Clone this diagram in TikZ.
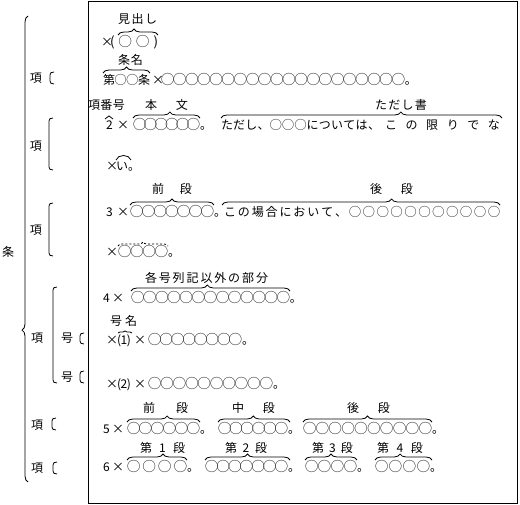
\documentclass[tikz,border=0pt]{standalone}
\usepackage{fontspec}
\setmainfont{Noto Sans CJK JP}
\usetikzlibrary{decorations.pathreplacing}
\makeatletter
\let\spr@end\relax
\def\spr@loop#1{\ifx#1\spr@end\else\hskip 0pt plus 1fill minus 3pt\relax#1\expandafter\spr@loop\fi}
\def\spr@first#1{#1\spr@loop}
\newcommand\spr[2]{\makebox[#1pt][s]{\spr@first#2\spr@end}}
\makeatother
\newcommand\C{\fontsize{13.2}{14}\selectfont}
\newcommand\lbrk[3]{\draw[ln] ({#1+4},#2) .. controls ({#1+1},#2) and (#1,{#2+1}) .. (#1,{#2+3}) -- (#1,{#3-3}) .. controls (#1,{#3-1}) and ({#1+1},#3) .. ({#1+4},#3);}
\begin{document}
\begin{tikzpicture}[x=1pt,y=-1pt,
  t/.style={inner sep=0pt, outer sep=0pt, anchor=base west, font=\fontsize{12}{14}\selectfont},
  lab/.style={inner sep=0pt, outer sep=0pt, anchor=base, font=\fontsize{12}{14}\selectfont},
  ln/.style={line width=0.8pt},
  br/.style={ln, decorate, decoration={brace, amplitude=6pt, aspect=#1}},
  br/.default=0.5]
\useasboundingbox (0,0) rectangle (520,505);
\fill[white] (0,0) rectangle (520,505);
% frame
\draw[line width=1pt] (88,2) rectangle (517,503);
% left structure
\node[lab] (jo) at (8,256.5) {条};
\draw[ln, decorate, decoration={brace, amplitude=6pt, aspect=0.326}] (28,482) -- (28,16);
\node[lab] (k1) at (36,82.5) {項};
\lbrk{50}{72}{84}
\node[lab] (k2) at (36,150.5) {項};
\lbrk{49}{118}{170}
\node[lab] (k3) at (36,234.5) {項};
\lbrk{49}{203}{256}
\node[lab] (k4) at (37,342.5) {項};
\lbrk{53}{287}{383}
\node[lab] (g1) at (67,342.5) {号};
\lbrk{80}{333}{344}
\node[lab] (g2) at (67,381.5) {号};
\lbrk{80}{371}{383}
\node[lab] (k5) at (37,429.5) {項};
\lbrk{52}{418}{430}
\node[lab] (k6) at (37,472.5) {項};
\lbrk{53}{462}{474}
% row 1-2
\node[t] (midashi) at (118,23.5) {\spr{39}{見出し}};
\node[t] (x2) at (101,46.5) {×};
\node[t] (r2) at (110,46.5) {{\C\spr{48}{(◯◯)}}};
\draw[br=0.4] (118,35) -- (158,35);
% row 3-4
\node[t] (jomei) at (118,64.5) {\spr{25}{条名}};
\node[t] (dai) at (103,84.5) {\spr{47}{第◯◯条}};
\node[t] (x4) at (152,84.5) {×};
\node[t] (r4) at (161,84.5) {{\C\spr{244}{◯◯◯◯◯◯◯◯◯◯◯◯◯◯◯◯◯◯◯◯}}。};
\draw[br=0.5] (103,73) -- (150,73);
% row 5-7
\node[t] (kobango) at (88,109.5) {\spr{37}{項番号}};
\node[t] (honbun) at (145,109.5) {\spr{43}{本文}};
\node[t] (tadashigaki) at (375,109.5) {\spr{52}{ただし書}};
\node[t] (n2) at (106,129.5) {2};
\node[t] (x6) at (117,129.5) {×};
\node[t] (r6a) at (133,129.5) {{\C\spr{67}{◯◯◯◯◯◯}}。};
\node[t] (r6b) at (221,129.5) {\spr{159}{ただし、◯◯◯については、}};
\node[t] (r6c) at (385,129.5) {\spr{115}{この限りでな}};
\draw[ln, decorate, decoration={brace, amplitude=3pt}] (105,119) -- (113,119);
\draw[br=0.55] (133,118) -- (200,118);
\draw[br=0.64] (221,118) -- (502,118);
\node[t] (x7) at (106,170.5) {×};
\node[t] (r7) at (116,170.5) {い。};
\draw[ln] (116,160) .. controls (118,154) and (129,154) .. (131,160);
% row 8-10
\node[t] (zendan1) at (152,193.5) {\spr{40}{前段}};
\node[t] (kodan1) at (370,193.5) {\spr{43}{後段}};
\node[t] (n3) at (106,216.5) {3};
\node[t] (x9) at (117,216.5) {×};
\node[t] (r9a) at (130,216.5) {{\C\spr{84}{◯◯◯◯◯◯◯}}。};
\node[t] (r9b) at (224,216.5) {\spr{276}{この場合において、◯◯◯◯◯◯◯◯◯◯◯}};
\draw[br=0.5] (130,205) -- (214,205);
\draw[br=0.61] (222,205) -- (500,205);
\node[t] (x10) at (106,256.5) {×};
\node[t] (r10) at (118,256.5) {{\C\spr{50}{◯◯◯◯}}。};
\draw[ln, dashed, dash pattern=on 2pt off 2pt, decorate, decoration={brace, amplitude=4pt}] (118,246) -- (168,246);
% row 11-12
\node[t] (kakugo) at (145,282.5) {\spr{123}{各号列記以外の部分}};
\node[t] (n4) at (103,302.5) {4};
\node[t] (x12) at (112,302.5) {×};
\node[t] (r12) at (131,302.5) {{\C\spr{159}{◯◯◯◯◯◯◯◯◯◯◯◯◯}}。};
\draw[br=0.48] (131,291) -- (290,291);
% row 13-15
\node[t] (gomei) at (110,325.5) {\spr{27}{号名}};
\node[t] (x14a) at (106,344.5) {×};
\node[t] (p1) at (117,344.5) {\spr{14}{(1)}};
\node[t] (x14b) at (134,344.5) {×};
\node[t] (r14) at (148,344.5) {{\C\spr{94}{◯◯◯◯◯◯◯◯}}。};
\draw[ln, decorate, decoration={brace, amplitude=2pt}] (118,333) -- (132,333);
\node[t] (x15a) at (106,388.5) {×};
\node[t] (p2) at (117,388.5) {\spr{14}{(2)}};
\node[t] (x15b) at (134,388.5) {×};
\node[t] (r15) at (148,388.5) {{\C\spr{125}{◯◯◯◯◯◯◯◯◯◯}}。};
% row 16-17
\node[t] (zendan2) at (143,412.5) {\spr{45}{前段}};
\node[t] (chudan) at (232,412.5) {\spr{43}{中段}};
\node[t] (kodan2) at (347,412.5) {\spr{43}{後段}};
\node[t] (n5) at (103,433.5) {5};
\node[t] (x17) at (112,433.5) {×};
\node[t] (r17a) at (127,433.5) {{\C\spr{73}{◯◯◯◯◯◯}}。};
\node[t] (r17b) at (218,433.5) {{\C\spr{70}{◯◯◯◯◯◯}}。};
\node[t] (r17c) at (303,433.5) {{\C\spr{129}{◯◯◯◯◯◯◯◯◯◯}}。};
\draw[br=0.55] (127,422) -- (200,422);
\draw[br=0.49] (218,422) -- (290,422);
\draw[br=0.5] (303,422) -- (432,422);
% row 18-19
\node[t] (dai1) at (140,452.5) {\spr{45}{第1段}};
\node[t] (dai2) at (225,452.5) {\spr{42}{第2段}};
\node[t] (dai3) at (312,452.5) {\spr{41}{第3段}};
\node[t] (dai4) at (377,452.5) {\spr{46}{第4段}};
\node[t] (n6) at (103,471.5) {6};
\node[t] (x19) at (112,471.5) {×};
\node[t] (r19a) at (127,471.5) {{\C\spr{60}{◯◯◯◯}}。};
\node[t] (r19b) at (205,471.5) {{\C\spr{83}{◯◯◯◯◯◯◯}}。};
\node[t] (r19c) at (305,471.5) {{\C\spr{52}{◯◯◯◯}}。};
\node[t] (r19d) at (375,471.5) {{\C\spr{55}{◯◯◯◯}}。};
\draw[br=0.6] (127,460) -- (187,460);
\draw[br=0.5] (205,460) -- (290,460);
\draw[br=0.5] (305,460) -- (357,460);
\draw[br=0.44] (375,460) -- (432,460);
\end{tikzpicture}
\end{document}
